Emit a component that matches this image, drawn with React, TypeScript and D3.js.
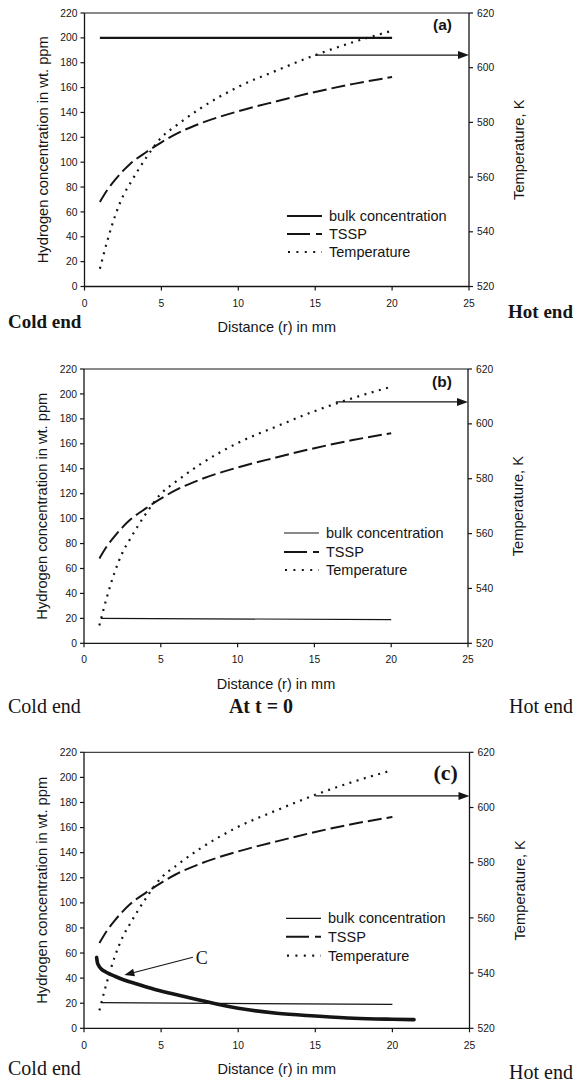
import React from 'react';
import * as d3 from 'd3';

// ---------- data ----------
const distance = [1, 1.5, 2, 2.5, 3, 4, 5, 6, 7.5, 10, 12.5, 15, 17.5, 20];
const tssp = [68, 78, 86, 93, 99, 108, 116, 123, 131, 141, 149, 156.5, 163, 168.5];
const temperature = [526.5, 537, 546, 553, 558, 567, 574.5, 579, 585, 593, 599, 604.6, 609.4, 613.5];

const bulkDistance = [1, 20];
const bulkA = [200, 200];
const bulkDistanceBC = [1.1, 20];
const bulkB = [20, 19];
const bulkC = [20.5, 19];

const cDistance = [0.82, 0.86, 0.95, 1.1, 1.47, 2.0, 2.6, 3.43, 4.5, 5.6, 6.7, 7.76, 8.6, 10, 12.5, 15, 17.5, 20, 21.4];
const cValues = [56.5, 53, 50, 47.5, 44.5, 41.5, 38.5, 35.3, 31.3, 27.9, 24.7, 21.8, 19.4, 16, 12, 9.8, 8, 7.2, 6.9];

const xTicks = [0, 5, 10, 15, 20, 25];
const yTicks = [0, 20, 40, 60, 80, 100, 120, 140, 160, 180, 200, 220];
const tTicks = [520, 540, 560, 580, 600, 620];

const legendLabels = ['bulk concentration', 'TSSP', 'Temperature'];
const panelLabels = ['(a)', '(b)', '(c)'];
const arrowDistance = [15, 16.4, 15];
const arrowTemp = [604.6, 608, 604.2];

const cAnnotFrom = [7.06, 56.6];
const cAnnotTo = [2.62, 42.5];
const cAnnotLabel = 'C';

const xTitle = 'Distance (r) in mm';
const yTitle = 'Hydrogen concentration in wt. ppm';
const tTitle = 'Temperature, K';

// ---------- styles ----------
const sans = '"Liberation Sans", Arial, Helvetica, sans-serif';
const serif = '"Liberation Serif", "Times New Roman", Times, serif';
const ink = '#151515';

type Cfg = {
  x0: number; x1: number; yTop: number; yBot: number;
  bulk: number[]; bulkX: number[]; bulkW: number;
  label: string; labelSerif: boolean; labelY: number;
  arrowIdx: number;
  legendX: number; legendRows: number[];
  xLabY: number; titleY: number;
  coldY: number; hotY: number; endBold: boolean;
  showC: boolean;
};

function Panel({ c }: { c: Cfg }) {
  const x = d3.scaleLinear().domain([0, 25]).range([c.x0, c.x1]);
  const y = d3.scaleLinear().domain([0, 220]).range([c.yBot, c.yTop]);
  const yT = d3.scaleLinear().domain([520, 620]).range([c.yBot, c.yTop]);

  const lineConc = d3.line<number>().x((_, i) => x(distance[i])).y((d) => y(d)).curve(d3.curveMonotoneX);
  const lineTemp = d3.line<number>().x((_, i) => x(distance[i])).y((d) => yT(d)).curve(d3.curveMonotoneX);
  const lineBulk = d3.line<number>().x((_, i) => x(c.bulkX[i])).y((d) => y(d));
  const lineC = d3.line<number>().x((_, i) => x(cDistance[i])).y((d) => y(d)).curve(d3.curveMonotoneX);

  const ax = x(arrowDistance[c.arrowIdx]);
  const ay = yT(arrowTemp[c.arrowIdx]);
  const tip = c.x1;

  const midX = (c.x0 + c.x1) / 2;
  const midY = (c.yTop + c.yBot) / 2;

  // annotation C
  const fx = x(cAnnotFrom[0]), fy = y(cAnnotFrom[1]);
  const tx = x(cAnnotTo[0]), ty = y(cAnnotTo[1]);
  const dx = tx - fx, dy = ty - fy;
  const len = Math.hypot(dx, dy);
  const ux = dx / len, uy = dy / len;
  const hl = 10, hw = 3.8;
  const bx = tx - ux * hl, by = ty - uy * hl;

  return (
    <g>
      {/* frame */}
      <line x1={c.x0} x2={c.x1} y1={c.yTop} y2={c.yTop} stroke={ink} strokeWidth={1} />
      <line x1={c.x0} x2={c.x1} y1={c.yBot} y2={c.yBot} stroke={ink} strokeWidth={1.3} />
      <line x1={c.x0} x2={c.x0} y1={c.yTop} y2={c.yBot} stroke={ink} strokeWidth={1.3} />
      <line x1={c.x1} x2={c.x1} y1={c.yTop} y2={c.yBot} stroke={ink} strokeWidth={1.3} />

      {/* left ticks */}
      {yTicks.map((t) => (
        <g key={'y' + t}>
          <line x1={c.x0 - 4} x2={c.x0} y1={y(t)} y2={y(t)} stroke={ink} strokeWidth={1.2} />
          <text x={c.x0 - 7} y={y(t)} dy="0.35em" textAnchor="end" fontFamily={sans} fontSize={10.3} fill={ink}>{t}</text>
        </g>
      ))}
      {/* right ticks */}
      {tTicks.map((t) => (
        <g key={'t' + t}>
          <line x1={c.x1} x2={c.x1 + 4} y1={yT(t)} y2={yT(t)} stroke={ink} strokeWidth={1.2} />
          <text x={c.x1 + 8} y={yT(t)} dy="0.35em" textAnchor="start" fontFamily={sans} fontSize={10.3} fill={ink}>{t}</text>
        </g>
      ))}
      {/* bottom ticks */}
      {xTicks.map((t) => (
        <g key={'x' + t}>
          <line x1={x(t)} x2={x(t)} y1={c.yBot} y2={c.yBot + 4} stroke={ink} strokeWidth={1.2} />
          <text x={x(t)} y={c.xLabY} textAnchor="middle" fontFamily={sans} fontSize={10.3} fill={ink}>{t}</text>
        </g>
      ))}

      {/* titles */}
      <text x={midX} y={c.titleY} textAnchor="middle" fontFamily={sans} fontSize={14.5} fill={ink}>{xTitle}</text>
      <text transform={`translate(${c.x0 - 42},${midY}) rotate(-90)`} textAnchor="middle" dy="0.35em" fontFamily={sans} fontSize={14.7} fill={ink}>{yTitle}</text>
      <text transform={`translate(${c.x1 + 50},${midY}) rotate(-90)`} textAnchor="middle" dy="0.35em" fontFamily={sans} fontSize={14.7} fill={ink}>{tTitle}</text>

      {/* series */}
      <path d={lineBulk(c.bulk) || ''} fill="none" stroke={ink} strokeWidth={c.bulkW} />
      <path d={lineConc(tssp) || ''} fill="none" stroke={ink} strokeWidth={2} strokeDasharray="14,5" />
      <path d={lineTemp(temperature) || ''} fill="none" stroke={ink} strokeWidth={2.2} strokeDasharray="2,5.5" />
      {c.showC && (
        <path d={lineC(cValues) || ''} fill="none" stroke={ink} strokeWidth={3.6} strokeLinecap="round" />
      )}

      {/* arrow to right axis */}
      <line x1={ax} x2={tip - 9} y1={ay} y2={ay} stroke={ink} strokeWidth={1.3} />
      <path d={`M${tip},${ay} L${tip - 11},${ay - 4} L${tip - 11},${ay + 4} Z`} fill={ink} />

      {/* panel label */}
      {c.labelSerif ? (
        <text x={c.x1 - 36} y={c.labelY} fontFamily={serif} fontWeight="bold" fontSize={22} fill={ink}>{c.label}</text>
      ) : (
        <text x={c.x1 - 36} y={c.labelY} fontFamily={sans} fontWeight="bold" fontSize={15.5} fill={ink}>{c.label}</text>
      )}

      {/* legend */}
      <line x1={c.legendX - 42} x2={c.legendX - 7} y1={c.legendRows[0]} y2={c.legendRows[0]} stroke={ink} strokeWidth={c.bulkW} />
      <line x1={c.legendX - 42} x2={c.legendX - 7} y1={c.legendRows[1]} y2={c.legendRows[1]} stroke={ink} strokeWidth={2} strokeDasharray="23,6,6,40" />
      <line x1={c.legendX - 41} x2={c.legendX - 7} y1={c.legendRows[2]} y2={c.legendRows[2]} stroke={ink} strokeWidth={2.2} strokeDasharray="2,6.4" />
      {legendLabels.map((l, i) => (
        <text key={l} x={c.legendX} y={c.legendRows[i]} dy="0.35em" fontFamily={sans} fontSize={14.5} fill={ink}>{l}</text>
      ))}

      {/* annotation C */}
      {c.showC && (
        <g>
          <line x1={fx} y1={fy} x2={bx} y2={by} stroke={ink} strokeWidth={1.2} />
          <path d={`M${tx},${ty} L${bx - uy * hw},${by + ux * hw} L${bx + uy * hw},${by - ux * hw} Z`} fill={ink} />
          <text x={fx + 3} y={fy} dy="0.35em" fontFamily={serif} fontSize={18} fill={ink}>{cAnnotLabel}</text>
        </g>
      )}

      {/* end labels */}
      <text x={8} y={c.coldY} fontFamily={serif} fontWeight={c.endBold ? 'bold' : 'normal'} fontSize={c.endBold ? 19 : 20} fill={ink}>Cold end</text>
      <text x={573} y={c.hotY} textAnchor="end" fontFamily={serif} fontWeight={c.endBold ? 'bold' : 'normal'} fontSize={c.endBold ? 19 : 20} fill={ink}>Hot end</text>
    </g>
  );
}

const panels: Cfg[] = [
  {
    x0: 84.5, x1: 469, yTop: 13, yBot: 286.5,
    bulk: bulkA, bulkX: bulkDistance, bulkW: 2.2,
    label: panelLabels[0], labelSerif: false, labelY: 30,
    arrowIdx: 0,
    legendX: 329, legendRows: [216, 234, 252],
    xLabY: 307, titleY: 332,
    coldY: 328, hotY: 318, endBold: true, showC: false,
  },
  {
    x0: 84, x1: 468, yTop: 369, yBot: 643.3,
    bulk: bulkB, bulkX: bulkDistanceBC, bulkW: 1.2,
    label: panelLabels[1], labelSerif: false, labelY: 387,
    arrowIdx: 1,
    legendX: 326, legendRows: [533, 552, 570],
    xLabY: 663, titleY: 689,
    coldY: 713, hotY: 713, endBold: false, showC: false,
  },
  {
    x0: 84, x1: 469.5, yTop: 752.3, yBot: 1028.3,
    bulk: bulkC, bulkX: bulkDistanceBC, bulkW: 1.2,
    label: panelLabels[2], labelSerif: true, labelY: 780,
    arrowIdx: 2,
    legendX: 328, legendRows: [918.3, 936.7, 955.7],
    xLabY: 1048.5, titleY: 1074,
    coldY: 1075, hotY: 1078.5, endBold: false, showC: true,
  },
];

export default function App() {
  return (
    <svg width={573} height={1082} style={{ position: 'absolute', left: 0, top: 0, background: '#fff' }}>
      <rect width={573} height={1082} fill="#fff" />
      {panels.map((p, i) => <Panel key={i} c={p} />)}
      <text x={261} y={713} textAnchor="middle" fontFamily={serif} fontWeight="bold" fontSize={20} fill={ink}>At t = 0</text>
    </svg>
  );
}
